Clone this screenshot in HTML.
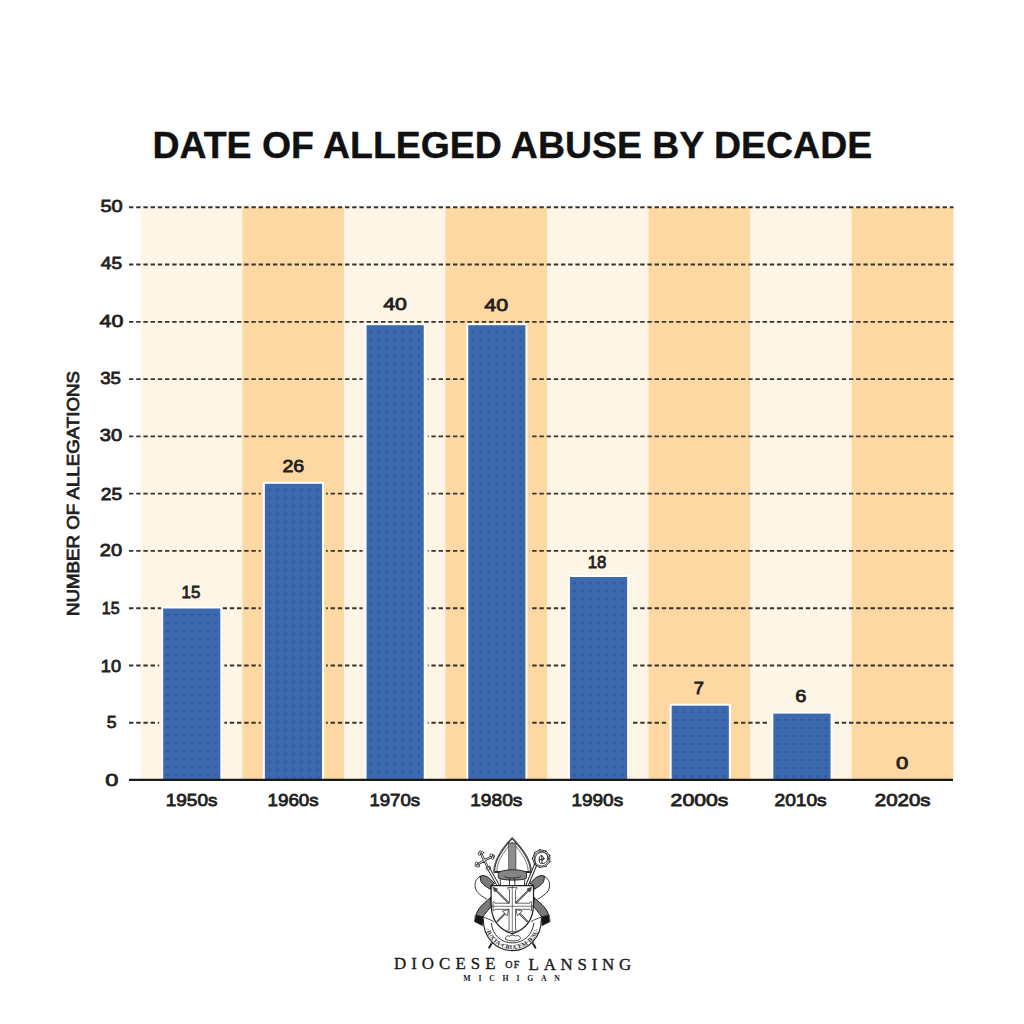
<!DOCTYPE html>
<html><head><meta charset="utf-8"><style>
html,body{margin:0;padding:0;background:#fff;}
body{width:1024px;height:1024px;overflow:hidden;position:relative;}
svg{position:absolute;left:0;top:0;}
.t{font-family:"Liberation Sans",sans-serif;font-weight:normal;fill:#231f20;stroke:#231f20;stroke-width:0.8px;}
.title{font-family:"Liberation Sans",sans-serif;font-weight:bold;fill:#111;stroke:#111;stroke-width:0.35px;}
.serif{font-family:"Liberation Serif",serif;}
</style></head><body>
<svg width="1024" height="1024" viewBox="0 0 1024 1024">
<defs>
<pattern id="dots0" x="163.65" y="611.00" width="8" height="8" patternUnits="userSpaceOnUse"><rect width="8" height="8" fill="#3D69AF"/><ellipse cx="4" cy="4" rx="1.5" ry="1.2" fill="#2b56a0"/></pattern><pattern id="dots1" x="265.35" y="486.30" width="8" height="8" patternUnits="userSpaceOnUse"><rect width="8" height="8" fill="#3D69AF"/><ellipse cx="4" cy="4" rx="1.5" ry="1.2" fill="#2b56a0"/></pattern><pattern id="dots2" x="367.05" y="327.70" width="8" height="8" patternUnits="userSpaceOnUse"><rect width="8" height="8" fill="#3D69AF"/><ellipse cx="4" cy="4" rx="1.5" ry="1.2" fill="#2b56a0"/></pattern><pattern id="dots3" x="468.75" y="327.70" width="8" height="8" patternUnits="userSpaceOnUse"><rect width="8" height="8" fill="#3D69AF"/><ellipse cx="4" cy="4" rx="1.5" ry="1.2" fill="#2b56a0"/></pattern><pattern id="dots4" x="570.45" y="579.50" width="8" height="8" patternUnits="userSpaceOnUse"><rect width="8" height="8" fill="#3D69AF"/><ellipse cx="4" cy="4" rx="1.5" ry="1.2" fill="#2b56a0"/></pattern><pattern id="dots5" x="672.15" y="708.20" width="8" height="8" patternUnits="userSpaceOnUse"><rect width="8" height="8" fill="#3D69AF"/><ellipse cx="4" cy="4" rx="1.5" ry="1.2" fill="#2b56a0"/></pattern><pattern id="dots6" x="773.85" y="716.10" width="8" height="8" patternUnits="userSpaceOnUse"><rect width="8" height="8" fill="#3D69AF"/><ellipse cx="4" cy="4" rx="1.5" ry="1.2" fill="#2b56a0"/></pattern>
</defs>
<rect x="140.80" y="207.5" width="101.85" height="571.5" fill="#FDF5E5"/>
<rect x="242.35" y="207.5" width="101.85" height="571.5" fill="#FED8A3"/>
<rect x="343.90" y="207.5" width="101.85" height="571.5" fill="#FDF5E5"/>
<rect x="445.45" y="207.5" width="101.85" height="571.5" fill="#FED8A3"/>
<rect x="547.00" y="207.5" width="101.85" height="571.5" fill="#FDF5E5"/>
<rect x="648.55" y="207.5" width="101.85" height="571.5" fill="#FED8A3"/>
<rect x="750.10" y="207.5" width="101.85" height="571.5" fill="#FDF5E5"/>
<rect x="851.65" y="207.5" width="101.85" height="571.5" fill="#FED8A3"/>
<line x1="129" y1="722.73" x2="953.5" y2="722.73" stroke="#38322c" stroke-opacity="1" stroke-width="1.9" stroke-dasharray="4.4 2.8"/>
<line x1="129" y1="665.46" x2="953.5" y2="665.46" stroke="#38322c" stroke-opacity="1" stroke-width="1.9" stroke-dasharray="4.4 2.8"/>
<line x1="129" y1="608.19" x2="953.5" y2="608.19" stroke="#38322c" stroke-opacity="1" stroke-width="1.9" stroke-dasharray="4.4 2.8"/>
<line x1="129" y1="550.92" x2="953.5" y2="550.92" stroke="#38322c" stroke-opacity="1" stroke-width="1.9" stroke-dasharray="4.4 2.8"/>
<line x1="129" y1="493.65" x2="953.5" y2="493.65" stroke="#38322c" stroke-opacity="1" stroke-width="1.9" stroke-dasharray="4.4 2.8"/>
<line x1="129" y1="436.38" x2="953.5" y2="436.38" stroke="#38322c" stroke-opacity="1" stroke-width="1.9" stroke-dasharray="4.4 2.8"/>
<line x1="129" y1="379.11" x2="953.5" y2="379.11" stroke="#38322c" stroke-opacity="1" stroke-width="1.9" stroke-dasharray="4.4 2.8"/>
<line x1="129" y1="321.84" x2="953.5" y2="321.84" stroke="#38322c" stroke-opacity="1" stroke-width="1.9" stroke-dasharray="4.4 2.8"/>
<line x1="129" y1="264.57" x2="953.5" y2="264.57" stroke="#38322c" stroke-opacity="1" stroke-width="1.9" stroke-dasharray="4.4 2.8"/>
<line x1="129" y1="207.30" x2="953.5" y2="207.30" stroke="#38322c" stroke-opacity="1" stroke-width="1.9" stroke-dasharray="4.4 2.8"/>
<rect x="159.15" y="610.00" width="65.20" height="169.00" fill="#FDF5E5"/>
<rect x="161.15" y="606.50" width="61.20" height="172.50" fill="#fff"/>
<rect x="163.15" y="608.50" width="57.2" height="170.50" fill="url(#dots0)"/>
<rect x="260.85" y="485.30" width="65.20" height="293.70" fill="#FED8A3"/>
<rect x="262.85" y="481.80" width="61.20" height="297.20" fill="#fff"/>
<rect x="264.85" y="483.80" width="57.2" height="295.20" fill="url(#dots1)"/>
<rect x="362.55" y="326.70" width="65.20" height="452.30" fill="#FDF5E5"/>
<rect x="364.55" y="323.20" width="61.20" height="455.80" fill="#fff"/>
<rect x="366.55" y="325.20" width="57.2" height="453.80" fill="url(#dots2)"/>
<rect x="464.25" y="326.70" width="65.20" height="452.30" fill="#FED8A3"/>
<rect x="466.25" y="323.20" width="61.20" height="455.80" fill="#fff"/>
<rect x="468.25" y="325.20" width="57.2" height="453.80" fill="url(#dots3)"/>
<rect x="565.95" y="578.50" width="65.20" height="200.50" fill="#FDF5E5"/>
<rect x="567.95" y="575.00" width="61.20" height="204.00" fill="#fff"/>
<rect x="569.95" y="577.00" width="57.2" height="202.00" fill="url(#dots4)"/>
<rect x="667.65" y="707.20" width="65.20" height="71.80" fill="#FED8A3"/>
<rect x="669.65" y="703.70" width="61.20" height="75.30" fill="#fff"/>
<rect x="671.65" y="705.70" width="57.2" height="73.30" fill="url(#dots5)"/>
<rect x="769.35" y="715.10" width="65.20" height="63.90" fill="#FDF5E5"/>
<rect x="771.35" y="711.60" width="61.20" height="67.40" fill="#fff"/>
<rect x="773.35" y="713.60" width="57.2" height="65.40" fill="url(#dots6)"/>
<line x1="129" y1="779.8" x2="953" y2="779.8" stroke="#1a1a1a" stroke-width="2.3"/>
<text x="111.60" y="211.60" text-anchor="middle" class="t" style="font-size:17.20px" textLength="22.26" lengthAdjust="spacingAndGlyphs">50</text>
<text x="111.50" y="269.40" text-anchor="middle" class="t" style="font-size:17.20px" textLength="21.27" lengthAdjust="spacingAndGlyphs">45</text>
<text x="111.40" y="327.40" text-anchor="middle" class="t" style="font-size:17.20px" textLength="23.76" lengthAdjust="spacingAndGlyphs">40</text>
<text x="110.60" y="384.20" text-anchor="middle" class="t" style="font-size:17.20px" textLength="20.80" lengthAdjust="spacingAndGlyphs">35</text>
<text x="111.00" y="441.20" text-anchor="middle" class="t" style="font-size:17.20px" textLength="22.30" lengthAdjust="spacingAndGlyphs">30</text>
<text x="111.50" y="499.80" text-anchor="middle" class="t" style="font-size:17.20px" textLength="21.31" lengthAdjust="spacingAndGlyphs">25</text>
<text x="111.00" y="556.40" text-anchor="middle" class="t" style="font-size:17.20px" textLength="22.29" lengthAdjust="spacingAndGlyphs">20</text>
<text x="110.70" y="613.60" text-anchor="middle" class="t" style="font-size:17.20px" textLength="17.81" lengthAdjust="spacingAndGlyphs">15</text>
<text x="111.00" y="671.60" text-anchor="middle" class="t" style="font-size:17.20px" textLength="20.26" lengthAdjust="spacingAndGlyphs">10</text>
<text x="111.70" y="728.40" text-anchor="middle" class="t" style="font-size:17.20px" textLength="9.81" lengthAdjust="spacingAndGlyphs">5</text>
<text x="111.70" y="786.00" text-anchor="middle" class="t" style="font-size:17.20px" textLength="13.11" lengthAdjust="spacingAndGlyphs">0</text>
<text x="190.90" y="598.00" text-anchor="middle" class="t" style="font-size:17.20px" textLength="18.81" lengthAdjust="spacingAndGlyphs">15</text>
<text x="293.30" y="472.20" text-anchor="middle" class="t" style="font-size:17.20px" textLength="21.76" lengthAdjust="spacingAndGlyphs">26</text>
<text x="395.00" y="310.00" text-anchor="middle" class="t" style="font-size:17.20px" textLength="23.67" lengthAdjust="spacingAndGlyphs">40</text>
<text x="496.20" y="310.60" text-anchor="middle" class="t" style="font-size:17.20px" textLength="23.76" lengthAdjust="spacingAndGlyphs">40</text>
<text x="597.00" y="568.00" text-anchor="middle" class="t" style="font-size:17.20px" textLength="18.73" lengthAdjust="spacingAndGlyphs">18</text>
<text x="698.90" y="693.80" text-anchor="middle" class="t" style="font-size:17.20px" textLength="10.21" lengthAdjust="spacingAndGlyphs">7</text>
<text x="800.80" y="702.00" text-anchor="middle" class="t" style="font-size:17.20px" textLength="11.13" lengthAdjust="spacingAndGlyphs">6</text>
<text x="902.20" y="768.60" text-anchor="middle" class="t" style="font-size:17.20px" textLength="12.29" lengthAdjust="spacingAndGlyphs">0</text>
<text x="191.60" y="805.60" text-anchor="middle" class="t" style="font-size:17.20px" textLength="51.76" lengthAdjust="spacingAndGlyphs">1950s</text>
<text x="293.10" y="805.60" text-anchor="middle" class="t" style="font-size:17.20px" textLength="51.26" lengthAdjust="spacingAndGlyphs">1960s</text>
<text x="394.80" y="805.60" text-anchor="middle" class="t" style="font-size:17.20px" textLength="50.76" lengthAdjust="spacingAndGlyphs">1970s</text>
<text x="496.30" y="805.60" text-anchor="middle" class="t" style="font-size:17.20px" textLength="52.26" lengthAdjust="spacingAndGlyphs">1980s</text>
<text x="597.30" y="805.60" text-anchor="middle" class="t" style="font-size:17.20px" textLength="51.76" lengthAdjust="spacingAndGlyphs">1990s</text>
<text x="699.50" y="805.60" text-anchor="middle" class="t" style="font-size:17.20px" textLength="57.76" lengthAdjust="spacingAndGlyphs">2000s</text>
<text x="800.60" y="805.60" text-anchor="middle" class="t" style="font-size:17.20px" textLength="52.26" lengthAdjust="spacingAndGlyphs">2010s</text>
<text x="902.70" y="805.60" text-anchor="middle" class="t" style="font-size:17.20px" textLength="55.76" lengthAdjust="spacingAndGlyphs">2020s</text>
<text x="512.30" y="158.00" text-anchor="middle" class="title" style="font-size:36.30px" textLength="719.71" lengthAdjust="spacingAndGlyphs">DATE OF ALLEGED ABUSE BY DECADE</text>
<text transform="translate(79.00 493.50) rotate(-90)" text-anchor="middle" class="t" style="font-size:17.40px" textLength="245.00" lengthAdjust="spacingAndGlyphs">NUMBER OF ALLEGATIONS</text>
<g id="crest" fill="none" stroke="#1e1e1e" stroke-linejoin="round" stroke-linecap="round">
  <!-- ribbons (left), mirrored for right -->
  <g id="ribL">
    <path d="M481.4,875.9 C477.5,877.5 475.2,880.5 475,884.6 C475,888 476,890.5 477.6,892.3 C480,895 483,897 486.5,899" stroke-width="0.9" fill="#fff"/>
    <path d="M480.25,876.4 C481.5,875.8 482.5,875.5 483.5,875.6 C486,876 488,877 489.8,878.6 L494.6,883.5 L491.1,885.2 L490.5,889.3 C489.5,888.7 488.5,888.2 487.6,887.6 C486,886.6 484.6,885.6 483.5,884.6 C482.3,883.5 481.6,882.6 481.1,881.7 C480.5,880 480.2,878 480.25,876.4 Z" fill="#7a7a7a" stroke-width="1.0"/>
    <path d="M490.5,897.6 L491.2,906.3 C489,909 486.5,912 484.6,914.5 L482.9,916.9 L475.9,915.7 C476.3,914 476.8,912.5 477.6,911 C479.5,907.5 482,905 484.6,902.8 C486.5,901 488.5,899.3 490.5,897.6 Z" fill="#7a7a7a" stroke-width="1.0"/>
    <path d="M475.6,915.2 L483.2,916.9 L482.6,925.7 L474.7,921.8 Z" fill="#151515" stroke-width="0.6"/>
  </g>
  <use href="#ribL" transform="matrix(-1 0 0 1 1024.6 0)"/>
  <!-- cross (left) shaft -->
  <path d="M488.2,867.9 L498.5,886" stroke-width="3.2"/>
  <path d="M488.2,867.9 L498.5,886" stroke="#fff" stroke-width="1.5"/>
  <!-- crozier shaft -->
  <path d="M535.7,864.5 L526.8,886" stroke-width="3.3"/>
  <path d="M535.7,864.5 L526.8,886" stroke="#fff" stroke-width="1.4"/>
  <!-- mitre -->
  <path d="M494.2,872 C494,861 500,851 512.2,838.2 C524,851 531,861 530.8,872 Z" fill="#fff" stroke-width="1.8" stroke="#2e2e2e"/>
  <path d="M494.2,872 C494,861 500,851 512.2,838.2 C524,851 531,861 530.8,872" stroke="#ccc" stroke-width="0.55" stroke-dasharray="0 1.5"/>
  <path d="M496.8,871 C497,862 502.5,853 512.2,842 C522,853 528,862 528.2,871" stroke-width="0.6"/>
  <rect x="508.9" y="843" width="7" height="31" fill="#8e8e8e" stroke-width="0.6"/>
  <path d="M512.4,845 L512.4,872" stroke="#999" stroke-width="0.5" stroke-dasharray="1.2 1.8"/>
  <path d="M498.4,873 C500.5,868.6 524.5,868.6 526.6,873 L526.4,878.2 C523,880.8 502,880.8 498.6,878.2 Z" fill="#858585" stroke-width="0.9"/>
  <path d="M504.5,876.6 C506,878.6 519,878.6 520.5,876.6" stroke-width="0.8"/>
  <!-- dome below mitre -->
  <path d="M500.2,879.6 L500.6,886 M524.8,879.6 L524.4,886 M509.6,878.5 L509.3,886 M514.6,878.5 L515,886" stroke-width="0.9"/>
  <!-- cross arms -->
  <path d="M484.4,860.4 L480.9,853.3 M484.4,860.4 L491.9,856.6 M484.4,860.4 L477.4,864.6 M484.4,860.4 L488.2,867.9" stroke-width="2.3"/>
  <path d="M484.4,860.4 L480.9,853.3 M484.4,860.4 L491.9,856.6 M484.4,860.4 L477.4,864.6 M484.4,860.4 L488.2,867.9" stroke="#fff" stroke-width="0.9"/>
  <g stroke-width="0.75" fill="#fff"><circle cx="480.33" cy="852.13" r="1.35"/><circle cx="482.25" cy="852.64" r="1.35"/><circle cx="479.55" cy="853.96" r="1.35"/><circle cx="493.06" cy="856.01" r="1.35"/><circle cx="492.58" cy="857.94" r="1.35"/><circle cx="491.22" cy="855.26" r="1.35"/><circle cx="476.29" cy="865.27" r="1.35"/><circle cx="476.63" cy="863.31" r="1.35"/><circle cx="478.17" cy="865.89" r="1.35"/><circle cx="487.40" cy="868.31" r="1.3"/><circle cx="489.00" cy="867.49" r="1.3"/><circle cx="488.56" cy="868.61" r="1.3"/></g>
  <!-- crozier head -->
  <path d="M539.85,849.84 L545.85,850.89 L549.76,855.56 L549.76,861.64 L545.85,866.31 L539.85,867.36 L534.58,864.32 L532.50,858.60 L534.58,852.88 Z" fill="#fff" stroke-width="0.9"/>
  <g fill="#222" stroke="none"><circle cx="539.85" cy="849.84" r="0.75"/><circle cx="545.85" cy="850.89" r="0.75"/><circle cx="549.76" cy="855.56" r="0.75"/><circle cx="549.76" cy="861.64" r="0.75"/><circle cx="545.85" cy="866.31" r="0.75"/><circle cx="539.85" cy="867.36" r="0.75"/><circle cx="534.58" cy="864.32" r="0.75"/><circle cx="532.50" cy="858.60" r="0.75"/><circle cx="534.58" cy="852.88" r="0.75"/></g>
  <circle cx="541.4" cy="858.6" r="7.3" stroke-width="0.7"/>
  <path d="M536.5,866 C533.8,861 534.5,854.5 539.5,852.6 C544.5,850.8 548.2,854.5 547.6,858.8 C547,863 542.5,864.8 539.6,862.8" stroke-width="0.9"/>
  <path d="M539.5,861.5 C538.3,858 539.8,855.2 541.8,855.8 C544,856.5 544.3,859.3 542.6,860.5 M541.8,855.8 L541.9,862.6 M539.4,859.8 L544.4,858.6" stroke-width="0.95"/>
  <!-- swords bottom -->
  <path d="M499,930.5 L489.3,947.6 M525.6,930.5 L535.3,947.6" stroke-width="2"/>
  <path d="M499,930.5 L491.5,943.5 M525.6,930.5 L533.1,943.5" stroke="#fff" stroke-width="0.5"/>
  <!-- motto ring -->
  <path d="M483.3,919 C483,937 496,950.6 512.2,950.6 C528.5,950.6 541.5,937 541.3,919" fill="#fff" stroke-width="1.1"/>
  <path d="M491.4,923.3 C492.5,935 501,942.9 512.4,942.9 C523.8,942.9 532.5,935 533.8,923.3" stroke-width="0.9"/>
  <path d="M483.2,917.2 C487,918.2 490.5,919.8 493.4,921.5 M541.4,917.2 C537.6,918.2 534.1,919.8 531.2,921.5" stroke-width="0.8"/>
  <path id="mottoPath" d="M484.6,921.5 C484.8,937.2 497.2,949.2 512.3,949.2 C527.4,949.2 539.8,937.2 540,921.5" stroke="none"/>
  <text font-family="Liberation Serif, serif" font-size="6.2" font-weight="bold" fill="#1a1a1a" stroke="none" letter-spacing="0.05"><textPath href="#mottoPath" startOffset="50%" text-anchor="middle">·IUXTA·CRUCEM·IESU·</textPath></text>
  <!-- shield -->
  <path d="M491.1,885.5 L533.5,885.5 L533.5,904 C533.5,920.5 524.5,929.8 512.3,933.8 C500.1,929.8 491.1,920.5 491.1,904 Z" fill="#fff" stroke-width="1.25"/>
  <!-- rock -->
  <path d="M505.6,939 C505,936.3 507.5,935.3 509.5,936.2 C511,934.8 514,934.8 515.5,936 C517.8,935 520.8,936 520.3,938.8 C519.5,941.5 507,941.8 505.6,939 Z" fill="#fff" stroke-width="0.8"/>
  <!-- shield cross -->
  <path d="M509.1,889.6 C508,889.6 507.2,888.6 507.6,887.6 L517,887.6 C517.4,888.6 516.6,889.6 515.5,889.6 L515.5,903.2 L529.6,903.2 C529.6,902 530.6,901.4 531.6,901.8 L531.6,910.6 C530.6,911 529.6,910.4 529.6,909.3 L515.5,909.3 L515.5,929.6 C516.6,929.6 517.4,930.4 517,931.4 L507.6,931.4 C507.2,930.4 508,929.6 509.1,929.6 L509.1,909.3 L495,909.3 C495,910.4 494,911 493,910.6 L493,901.8 C494,901.4 495,902 495,903.2 L509.1,903.2 Z" fill="#fff" stroke="#555" stroke-width="0.9"/>
  <path d="M512.3,886 L512.3,933 M491.5,906.25 L533,906.25" stroke-width="0.6"/>
  <!-- arrows -->
  <path d="M494.6,888.8 L508.4,902.6 M530.0,888.8 L516.2,902.6 M497.3,921.3 L505,913.6 M527.3,921.3 L519.6,913.6" stroke-width="1.7"/>
  <path d="M494.6,888.8 L508.4,902.6 M530.0,888.8 L516.2,902.6 M497.3,921.3 L505,913.6 M527.3,921.3 L519.6,913.6" stroke="#fff" stroke-width="0.6"/>
  <g fill="#444" stroke="#1e1e1e" stroke-width="0.5">
    <path d="M493.0,887.2 L497.6,889.0 L494.8,891.8 Z"/>
    <path d="M531.6,887.2 L527.0,889.0 L529.8,891.8 Z"/>
  </g>
  <g fill="#fff" stroke="#1e1e1e" stroke-width="0.7">
    <path d="M508.6,909.9 L507.2,915.8 L502.7,911.3 Z"/>
    <path d="M516.0,909.9 L517.4,915.8 L521.9,911.3 Z"/>
  </g>
</g>
<text x="393.90" y="969.30" font-family="Liberation Serif, serif" font-weight="normal" font-size="16.90" fill="#1a1a1a" stroke="#1a1a1a" stroke-width="0.35" textLength="101.70" lengthAdjust="spacing">DIOCESE</text>
<text x="505.30" y="968.20" font-family="Liberation Serif, serif" font-weight="normal" font-size="10.00" fill="#1a1a1a" stroke="#1a1a1a" stroke-width="0.35" textLength="13.90" lengthAdjust="spacing">OF</text>
<text x="528.60" y="970.20" font-family="Liberation Serif, serif" font-weight="normal" font-size="16.90" fill="#1a1a1a" stroke="#1a1a1a" stroke-width="0.35" textLength="102.50" lengthAdjust="spacing">LANSING</text>
<text x="463.30" y="980.90" font-family="Liberation Serif, serif" font-weight="bold" font-size="7.80" fill="#1a1a1a" stroke="#1a1a1a" stroke-width="0" textLength="96.70" lengthAdjust="spacing">MICHIGAN</text>
</svg>
</body></html>
